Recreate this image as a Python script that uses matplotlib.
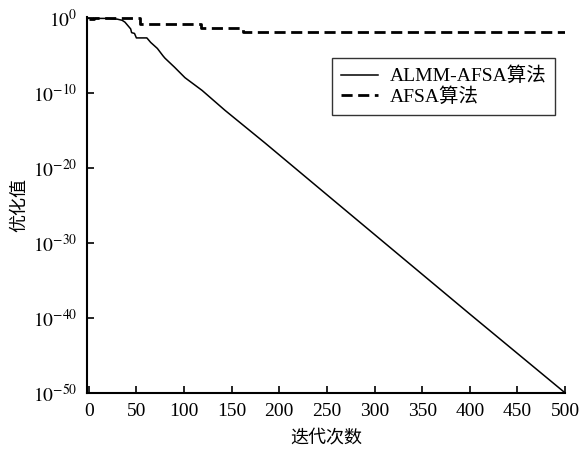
import numpy as np
import matplotlib
matplotlib.use("Agg")
import matplotlib.pyplot as plt
from matplotlib.ticker import FixedLocator, FuncFormatter

plt.rcParams['font.family'] = ['Liberation Serif', 'Noto Sans CJK SC']
plt.rcParams['mathtext.fontset'] = 'stix'

# ALMM-AFSA: iteration vs log10(optimum)
almm_iter = [0, 20, 30, 35, 38, 41, 44, 45, 48, 50, 61, 65, 72, 78, 80, 90, 101, 119, 143, 185, 250, 300, 400, 500]
almm_log = [-0.1, -0.1, -0.2, -0.35, -0.6, -1.05, -1.5, -2.0, -2.1, -2.7, -2.7, -3.3, -4.1, -5.1, -5.4, -6.6, -8.0, -9.7, -12.35, -16.7, -23.6, -28.9, -39.5, -50.0]

# AFSA: step changes
afsa_iter = [0, 6, 10, 54, 118, 162, 500]
afsa_log = [-0.13, -0.05, 0.0, -0.8, -1.33, -1.86, -1.86]

xticks = [0, 50, 100, 150, 200, 250, 300, 350, 400, 450, 500]
yticks_exp = [-50, -40, -30, -20, -10, 0]

fig = plt.figure(figsize=(5.79, 4.49), dpi=100)
ax = fig.add_axes([0.150, 0.125, 0.826, 0.837])

ax.plot(almm_iter, 10.0 ** np.array(almm_log), color='black', lw=1.1, label='ALMM-AFSA算法')
ax.plot(afsa_iter, 10.0 ** np.array(afsa_log), color='black', lw=2.0, ls=(0, (4, 2)),
        drawstyle='steps-post', label='AFSA算法')

ax.set_yscale('log')
ax.set_xlim(-2, 500)
ax.set_ylim(1e-50, 1.2e0)
ax.set_xticks(xticks)
ax.yaxis.set_major_locator(FixedLocator([10.0 ** e for e in yticks_exp]))
ax.yaxis.set_minor_locator(FixedLocator([]))
ax.yaxis.set_major_formatter(FuncFormatter(lambda v, p: r'$10^{%d}$' % round(np.log10(v))))

ax.spines['top'].set_visible(False)
ax.spines['right'].set_visible(False)
ax.spines['left'].set_linewidth(1.5)
ax.spines['bottom'].set_linewidth(1.5)
ax.tick_params(direction='in', length=5, width=1.2, labelsize=14, pad=7)

ax.set_xlabel('迭代次数', fontsize=13, labelpad=7)
ax.set_ylabel('优化值', fontsize=13, labelpad=3)

leg = ax.legend(loc='upper right', bbox_to_anchor=(0.979, 0.891), fontsize=14,
                frameon=True, fancybox=False, edgecolor='black', handlelength=1.9,
                handletextpad=0.6, borderpad=0.45, labelspacing=0.12, borderaxespad=0)
leg.get_frame().set_linewidth(1.0)

fig.savefig('out.png', dpi=100)
